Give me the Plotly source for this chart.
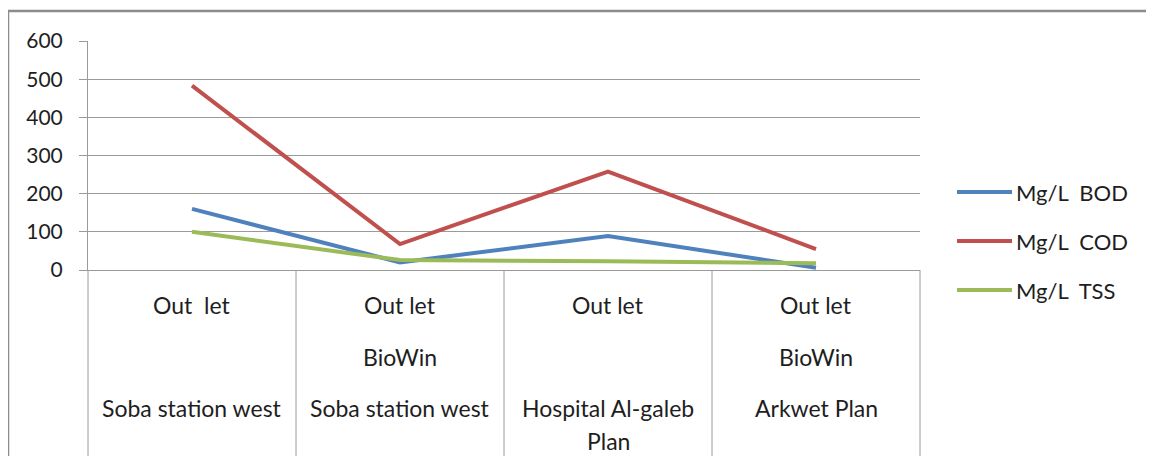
import plotly.graph_objects as go

# ---- data ----
row1 = ["Out\u00a0 let", "Out let", "Out let", "Out let"]
row2 = ["", "BioWin", "", "BioWin"]
row3 = ["Soba station west", "Soba station west", "Hospital Al-galeb<br>Plan", "Arkwet Plan"]
series_names = ["Mg/L\u00a0 BOD", "Mg/L\u00a0 COD", "Mg/L\u00a0 TSS"]
bod = [160, 20, 89, 6]
cod = [483, 68, 258, 55]
tss = [100, 26, 23, 18]
y_ticks = [0, 100, 200, 300, 400, 500, 600]

colors = ["#4F81BD", "#C0504D", "#9BBB59"]
FONT = "Lato, Liberation Sans, Arial, sans-serif"
TXT = "#1e1e1e"
GRID = "#9a9a9a"

n = len(row1)
xpos = [i + 0.5 for i in range(n)]

# page body has an 8px margin; figure is sized/offset to compensate
OFF = 8
W, H = 1154 - 2 * OFF, 464 - 2 * OFF
L, T = 88 - OFF, 41 - OFF
pw, ph = 832, 229
R, B = W - L - pw, H - T - ph
AX_Y = 270  # screen y of the x axis

fig = go.Figure()
for name, vals, c in zip(series_names, [bod, cod, tss], colors):
    fig.add_trace(go.Scatter(x=xpos, y=vals, mode="lines", name=name,
                             line=dict(color=c, width=4), showlegend=False))

shapes = []
annotations = []

# category separators below the axis
for i in range(n + 1):
    shapes.append(dict(type="line", xref="paper", yref="paper",
                       x0=i / n, x1=i / n, y0=0, y1=-(458 - AX_Y) / ph,
                       line=dict(color=GRID, width=1)))

# multi-level category labels
for i in range(n):
    for yshift, txt in [(-35, row1[i]), (-87, row2[i])]:
        if txt:
            annotations.append(dict(x=xpos[i], y=0, xref="x", yref="paper",
                                    text=txt, showarrow=False, yshift=yshift,
                                    yanchor="middle",
                                    font=dict(family=FONT, size=23, color=TXT)))
    for k, part in enumerate(row3[i].split("<br>")):
        annotations.append(dict(x=xpos[i], y=0, xref="x", yref="paper",
                                text=part, showarrow=False, yshift=-138 - 33 * k,
                                yanchor="middle",
                                font=dict(family=FONT, size=23, color=TXT)))

# legend (manual, to match long line samples)
leg_y = [192, 241, 290]
for name, c, ly in zip(series_names, colors, leg_y):
    yp = (AX_Y - ly) / ph
    shapes.append(dict(type="line", xref="paper", yref="paper",
                       x0=(957 - 88) / pw, x1=(1012 - 88) / pw, y0=yp, y1=yp,
                       line=dict(color=c, width=4)))
    annotations.append(dict(x=(1014 - 88) / pw, y=yp, xref="paper", yref="paper",
                            text=name, showarrow=False, xanchor="left",
                            yanchor="middle",
                            font=dict(family=FONT, size=22, color=TXT)))

# outer frame
shapes.append(dict(type="rect", xref="paper", yref="paper",
                   x0=(8 - 88) / pw, x1=1.5, y0=-1.5, y1=(AX_Y - 11) / ph,
                   line=dict(color="#8c8c8c", width=2.5), fillcolor="rgba(0,0,0,0)",
                   layer="above"))

fig.update_layout(
    width=W, height=H,
    margin=dict(l=L, r=R, t=T, b=B, pad=0),
    paper_bgcolor="white", plot_bgcolor="white",
    showlegend=False,
    shapes=shapes, annotations=annotations,
    xaxis=dict(range=[0, n], showgrid=False, zeroline=False, showticklabels=False,
               showline=True, linecolor=GRID, linewidth=1, ticks="", fixedrange=True),
    yaxis=dict(range=[0, 600], tickvals=y_ticks, showgrid=True, gridcolor=GRID,
               gridwidth=1, zeroline=False, showline=True, linecolor=GRID, linewidth=1,
               ticks="outside", ticklen=8, tickcolor=GRID, ticklabelstandoff=12,
               tickfont=dict(family=FONT, size=21, color=TXT), fixedrange=True),
)

fig.write_html("out.html")
